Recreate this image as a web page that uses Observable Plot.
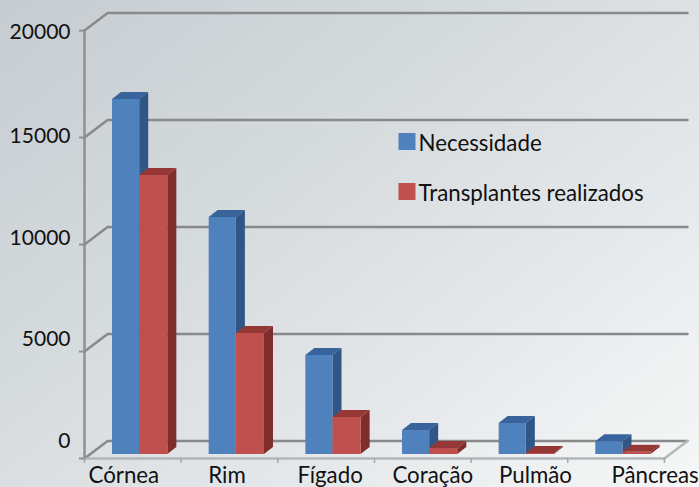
<!DOCTYPE html>
<html>
<head>
<meta charset="utf-8">
<script src="https://cdn.jsdelivr.net/npm/d3@7"></script>
<script src="https://cdn.jsdelivr.net/npm/@observablehq/plot@0.6"></script>
<style>
html,body{margin:0;padding:0;width:699px;height:487px;overflow:hidden;
background:linear-gradient(142deg,#c6ccd0 0%,#d6dbde 40%,#e6e9eb 70%,#f6f7f7 100%);}
svg{display:block}
</style>
</head>
<body>
<div id="chart"></div>
<script>
const categories = ["Córnea","Rim","Fígado","Coração","Pulmão","Pâncreas"];
const necessidade = [16590,11075,4630,1120,1450,600];
const realizados = [13040,5650,1730,280,50,100];
const yTicks = [0,5000,10000,15000,20000];
const seriesNames = ["Necessidade","Transplantes realizados"];

// 3-D projection, in scale units
const wallX = 0.2388, wallY = 818;   // depth of the chart box
const depthX = 0.0934, depthY = 327; // depth of a bar
const floorY = 187;                  // bars stand slightly inside the floor
const barEdges = [0.29,0.571,0.862];

const palette = {
  blue:{front:"#4f81bd",side:"#2f5686",top:"#38649b"},
  red:{front:"#c0504d",side:"#7f2e2c",top:"#953735"}
};

const faces = [];
function addBar(id,x0,x1,v,c){
  const b = floorY, t = floorY + v;
  const push = (face,fill,pts)=>pts.forEach(p=>faces.push({z:id+face,fill,x:p[0],y1:p[1],y2:p[2]}));
  push("side",c.side,[[x1,b,t],[x1+depthX,b+depthY,t+depthY]]);
  push("front",c.front,[[x0,b,t],[x1,b,t]]);
  push("top",c.top,[[x0,t,t],[x0+depthX,t,t+depthY],[x1,t,t+depthY],[x1+depthX,t+depthY,t+depthY]]);
}
categories.forEach((c,i)=>{
  addBar(c+"n",i+barEdges[0],i+barEdges[1],necessidade[i],palette.blue);
  addBar(c+"r",i+barEdges[1],i+barEdges[2],realizados[i],palette.red);
});

const n = categories.length;
const walls = yTicks.flatMap(v=>[
  {z:v,x:0,y:v},{z:v,x:wallX,y:v+wallY},{z:v,x:n+wallX,y:v+wallY}
]);
const floor = [{x:0,y:0},{x:n,y:0},{x:n+wallX,y:wallY}];

const yNudge = {0:-17,5000:-12,10000:-6,15000:-1,20000:2};
const xNudge = [-9,-2.5,4,10,16,39];
const textColor = "#111";

const plot = Plot.plot({
  width:699,height:487,marginLeft:84,marginRight:12,marginTop:12.6,marginBottom:29,
  style:{background:"transparent",overflow:"visible",fontFamily:"Lato, sans-serif",fontSize:"21px",color:textColor},
  x:{domain:[0,n+wallX]},
  y:{domain:[0,20000+wallY]},
  marks:[
    Plot.line(walls,{x:"x",y:"y",z:"z",stroke:"#87898b",strokeWidth:2.5}),
    Plot.line(floor,{x:"x",y:"y",stroke:"#b4b7b9",strokeWidth:2.5}),
    Plot.line([{x:0,y:20000},{x:0,y:0}],{x:"x",y:"y",stroke:"#8e9193",strokeWidth:2.5}),
    Plot.axisY(yTicks,{tickSize:5,fill:"none",stroke:"#8e9193",strokeWidth:2,label:null}),
    Plot.axisX(d3.range(n+1),{tickSize:5,fill:"none",stroke:"#a5a8aa",strokeWidth:1.5,label:null}),
    ...yTicks.map(t=>Plot.axisY([t],{tickSize:0,tickPadding:14,dy:yNudge[t],label:null,tickFormat:d=>String(d),
      fontSize:21,fontFamily:"Lato, sans-serif"})),
    ...categories.map((c,i)=>Plot.axisX([i+0.5],{tickSize:0,tickPadding:9,dx:xNudge[i],label:null,tickFormat:()=>c,
      fontSize:22.3,fontFamily:"Lato, sans-serif"})),
    Plot.areaY(faces,{x:"x",y1:"y1",y2:"y2",z:"z",fill:"fill"}),
    ...seriesNames.map((s,i)=>[
      Plot.dot([s],{frameAnchor:"top-left",dx:322.5,dy:128.4+50*i,symbol:"square",r:9.6,
        fill:i?palette.red.front:palette.blue.front}),
      Plot.text([s],{frameAnchor:"top-left",dx:334,dy:122.4+50*i,text:d=>d,textAnchor:"start",
        fontFamily:"Lato, sans-serif",fontSize:22.3,fill:textColor})
    ]).flat()
  ]
});
document.getElementById("chart").append(plot);
</script>
</body>
</html>
